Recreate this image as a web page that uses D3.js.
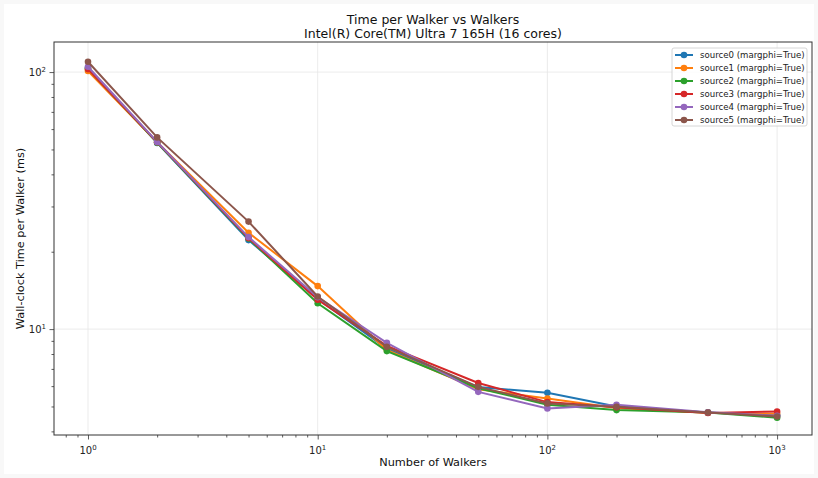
<!DOCTYPE html>
<html>
<head>
<meta charset="utf-8">
<script src="https://cdn.jsdelivr.net/npm/d3@7"></script>
<style>
  body { margin: 0; background: #f8f8f8; }
  svg { display: block; font-family: "DejaVu Sans", sans-serif; }
</style>
</head>
<body>
<div class="chart"></div>
<script>
const width = 818;
const height = 478;
const margin = { top: 42, right: 6, bottom: 43, left: 54 };

// walkers on the x axis
const walkers = [1, 2, 5, 10, 20, 50, 100, 200, 500, 1000];

// ms per walker
const source0 = [104.0, 53.0, 22.2, 13.1, 8.40, 5.95, 5.65, 5.00, 4.74, 4.62];
const source1 = [101.0, 53.3, 23.7, 14.7, 8.29, 5.83, 5.37, 4.93, 4.73, 4.68];
const source2 = [103.0, 53.2, 22.5, 12.6, 8.21, 5.89, 5.08, 4.84, 4.74, 4.52];
const source3 = [102.7, 53.4, 22.6, 13.0, 8.60, 6.17, 5.20, 4.97, 4.72, 4.78];
const source4 = [104.9, 53.5, 22.8, 13.3, 8.84, 5.70, 4.91, 5.08, 4.75, 4.60];
const source5 = [109.7, 55.7, 26.2, 13.4, 8.53, 5.96, 5.14, 4.99, 4.74, 4.57];

const seriesNames = [
    "source0 (margphi=True)",
    "source1 (margphi=True)",
    "source2 (margphi=True)",
    "source3 (margphi=True)",
    "source4 (margphi=True)",
    "source5 (margphi=True)",
];
const seriesValues = [source0, source1, source2, source3, source4, source5];
const colors = ["#1f77b4", "#ff7f0e", "#2ca02c", "#d62728", "#9467bd", "#8c564b"];

const xMajor = [1, 10, 100, 1000];
const yMajor = [10, 100];

const svg = d3
    .select(".chart")
    .append("svg")
    .attr("width", width)
    .attr("height", height);

// page frame
svg.append("rect")
    .attr("x", 4).attr("y", 4)
    .attr("width", 810).attr("height", 470)
    .attr("fill", "white");

const x = d3.scaleLog()
    .domain([Math.pow(10, -0.148), Math.pow(10, 3.152)])
    .range([margin.left, width - margin.right]);
const y = d3.scaleLog()
    .domain([Math.pow(10, 0.588), Math.pow(10, 2.117)])
    .range([height - margin.bottom, margin.top]);

const x0 = margin.left, x1 = width - margin.right;
const y0 = height - margin.bottom, y1 = margin.top;

// grid
svg.append("g").selectAll("line")
    .data(xMajor)
    .enter().append("line")
    .attr("x1", (d) => x(d)).attr("x2", (d) => x(d))
    .attr("y1", y0).attr("y2", y1)
    .attr("stroke", "#e6e6e6").attr("stroke-width", 0.8);
svg.append("g").selectAll("line")
    .data(yMajor)
    .enter().append("line")
    .attr("x1", x0).attr("x2", x1)
    .attr("y1", (d) => y(d)).attr("y2", (d) => y(d))
    .attr("stroke", "#e6e6e6").attr("stroke-width", 0.8);

// minor ticks from the log scales
const xMinor = x.ticks().filter((d) => !xMajor.includes(d));
const yMinor = y.ticks().filter((d) => !yMajor.includes(d));

const xAxis = svg.append("g").attr("transform", `translate(0,${y0})`);
xAxis.call(d3.axisBottom(x).tickValues(xMinor).tickSize(2.5).tickFormat(""));
xAxis.call((g) => g.select(".domain").remove());
const xMaj = svg.append("g").attr("transform", `translate(0,${y0})`);
xMaj.call(d3.axisBottom(x).tickValues(xMajor).tickSize(4.5).tickFormat(""));
xMaj.call((g) => g.select(".domain").remove());

const yAxis = svg.append("g").attr("transform", `translate(${x0},0)`);
yAxis.call(d3.axisLeft(y).tickValues(yMinor).tickSize(2.5).tickFormat(""));
yAxis.call((g) => g.select(".domain").remove());
const yMaj = svg.append("g").attr("transform", `translate(${x0},0)`);
yMaj.call(d3.axisLeft(y).tickValues(yMajor).tickSize(4.5).tickFormat(""));
yMaj.call((g) => g.select(".domain").remove());

svg.selectAll(".tick line").attr("stroke", "#333").attr("stroke-width", 0.8);

// tick labels as 10^n
function powLabel(sel, d) {
    sel.append("tspan").text("10");
    sel.append("tspan")
        .attr("dy", -4)
        .attr("font-size", 7)
        .text(Math.round(Math.log10(d)));
}
xMajor.forEach((d) => {
    const t = svg.append("text")
        .attr("x", x(d))
        .attr("y", y0 + 19)
        .attr("text-anchor", "middle")
        .attr("font-size", 10)
        .attr("fill", "#222");
    powLabel(t, d);
});
yMajor.forEach((d) => {
    const t = svg.append("text")
        .attr("x", x0 - 8)
        .attr("y", y(d) + 4)
        .attr("text-anchor", "end")
        .attr("font-size", 10)
        .attr("fill", "#222");
    powLabel(t, d);
});

// lines and markers
const line = d3.line()
    .x((d) => x(d[0]))
    .y((d) => y(d[1]));

seriesValues.forEach((vals, i) => {
    const pts = walkers.map((w, j) => [w, vals[j]]);
    svg.append("path")
        .datum(pts)
        .attr("d", line)
        .attr("fill", "none")
        .attr("stroke", colors[i])
        .attr("stroke-width", 2);
    svg.append("g").selectAll("circle")
        .data(pts)
        .enter().append("circle")
        .attr("cx", (d) => x(d[0]))
        .attr("cy", (d) => y(d[1]))
        .attr("r", 3.3)
        .attr("fill", colors[i]);
});

// axes box
svg.append("rect")
    .attr("x", x0).attr("y", y1)
    .attr("width", x1 - x0).attr("height", y0 - y1)
    .attr("fill", "none")
    .attr("stroke", "#333")
    .attr("stroke-width", 1);

// titles
svg.append("text")
    .attr("x", (x0 + x1) / 2).attr("y", 24)
    .attr("text-anchor", "middle")
    .attr("font-size", 12.5)
    .attr("fill", "#111")
    .text("Time per Walker vs Walkers");
svg.append("text")
    .attr("x", (x0 + x1) / 2).attr("y", 38)
    .attr("text-anchor", "middle")
    .attr("font-size", 12.5)
    .attr("fill", "#111")
    .text("Intel(R) Core(TM) Ultra 7 165H (16 cores)");

svg.append("text")
    .attr("x", (x0 + x1) / 2).attr("y", 466)
    .attr("text-anchor", "middle")
    .attr("font-size", 11.3)
    .attr("fill", "#111")
    .text("Number of Walkers");
svg.append("text")
    .attr("transform", `translate(24,${(y0 + y1) / 2}) rotate(-90)`)
    .attr("text-anchor", "middle")
    .attr("font-size", 11.3)
    .attr("fill", "#111")
    .text("Wall-clock Time per Walker (ms)");

// legend
const legend = svg.append("g").attr("transform", "translate(672,48)");
legend.append("rect")
    .attr("width", 135).attr("height", 78)
    .attr("rx", 2)
    .attr("fill", "white")
    .attr("fill-opacity", 0.8)
    .attr("stroke", "#ccc")
    .attr("stroke-width", 0.8);
seriesNames.forEach((name, i) => {
    const ly = 7 + i * 13;
    legend.append("line")
        .attr("x1", 3).attr("x2", 21)
        .attr("y1", ly).attr("y2", ly)
        .attr("stroke", colors[i]).attr("stroke-width", 2);
    legend.append("circle")
        .attr("cx", 12).attr("cy", ly).attr("r", 3.3)
        .attr("fill", colors[i]);
    legend.append("text")
        .attr("x", 28).attr("y", ly + 3.3)
        .attr("font-size", 8.6)
        .attr("fill", "#222")
        .text(name);
});
</script>
</body>
</html>
